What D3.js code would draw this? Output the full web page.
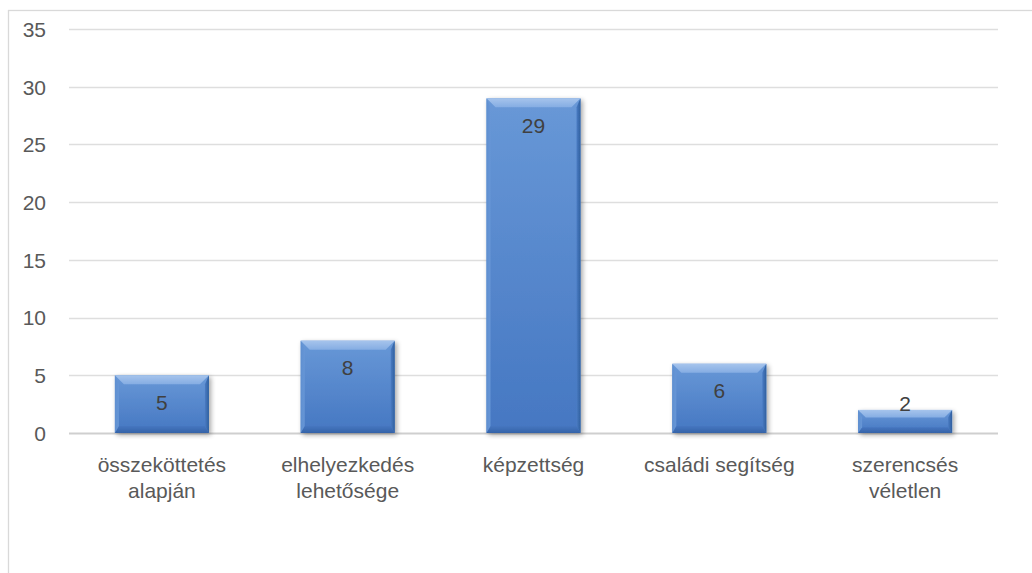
<!DOCTYPE html>
<html><head><meta charset="utf-8">
<script src="https://cdn.jsdelivr.net/npm/d3@7/dist/d3.min.js"></script>
<style>
html,body{margin:0;padding:0;background:#fff;}
svg{display:block;}
text{font-family:"Liberation Sans",Arial,sans-serif;}
</style></head>
<body>
<svg id="chart" width="1032" height="573"></svg>
<script>
const categories = [["összeköttetés","alapján"],["elhelyezkedés","lehetősége"],["képzettség"],["családi segítség"],["szerencsés","véletlen"]];
const values = [5, 8, 29, 6, 2];
const yTicks = [0, 5, 10, 15, 20, 25, 30, 35];

const svg = d3.select("#chart");
const W = 1032, H = 573;
const plot = {left: 69, right: 998, top: 29, bottom: 433};

// outer border
svg.append("rect").attr("x", 8.5).attr("y", 10.5).attr("width", W + 20).attr("height", H + 20)
  .attr("fill", "none").attr("stroke", "#d9d9d9").attr("stroke-width", 1.3);

const x = d3.scaleBand().domain(d3.range(values.length)).range([plot.left, plot.right])
  .paddingInner(0.494).paddingOuter(0.247);
const y = d3.scaleLinear().domain([0, 35]).range([plot.bottom, plot.top]);

const defs = svg.append("defs");
function lg(id, x1, y1, x2, y2, stops){
  const g = defs.append("linearGradient").attr("id", id)
    .attr("x1", x1).attr("y1", y1).attr("x2", x2).attr("y2", y2);
  stops.forEach(s => g.append("stop").attr("offset", s[0]).attr("stop-color", s[1]));
}
lg("face", 0, 0, 0, 1, [[0, "#6898d7"], [1, "#4577c2"]]);
lg("topB", 0, 0, 0, 1, [[0, "#a6c4ec"], [1, "#85ade3"]]);
lg("botB", 0, 0, 0, 1, [[0, "#4676c0"], [1, "#3563a8"]]);
lg("leftB", 0, 0, 1, 0, [[0, "#5f8fd0"], [1, "#6796d6"]]);
lg("rightB", 0, 0, 1, 0, [[0, "#4a7bc3"], [1, "#30609f"]]);
const f = defs.append("filter").attr("id", "shadow").attr("x", "-20%").attr("y", "-20%").attr("width", "150%").attr("height", "150%");
f.append("feGaussianBlur").attr("in", "SourceAlpha").attr("stdDeviation", 2.5).attr("result", "b");
f.append("feOffset").attr("in", "b").attr("dx", 2).attr("dy", 2).attr("result", "o");
f.append("feComponentTransfer").attr("in", "o").attr("result", "s")
  .append("feFuncA").attr("type", "linear").attr("slope", 0.35);
const m = f.append("feMerge");
m.append("feMergeNode").attr("in", "s");
m.append("feMergeNode").attr("in", "SourceGraphic");

// gridlines
svg.append("g").selectAll("line").data(yTicks).join("line")
  .attr("x1", plot.left).attr("x2", plot.right)
  .attr("y1", d => Math.round(y(d)) + 0.5).attr("y2", d => Math.round(y(d)) + 0.5)
  .attr("stroke", d => d === 0 ? "#cfcfcf" : "#dedede")
  .attr("stroke-width", d => d === 0 ? 2 : 1.3);

// y axis labels
const yAxis = d3.axisLeft(y).tickValues(yTicks).tickSize(0).tickPadding(0);
const ya = svg.append("g").attr("transform", `translate(46,0)`).call(yAxis);
ya.select(".domain").remove();
ya.selectAll("text").attr("font-size", 21).attr("fill", "#595959")
  .attr("font-family", "'Liberation Sans',Arial,sans-serif").attr("dy", "0.35em");

// bars
const bars = svg.append("g").selectAll("g").data(values).join("g").attr("filter", "url(#shadow)");
bars.each(function(v, i){
  const g = d3.select(this);
  const x0 = x(i), w = x.bandwidth(), y0 = y(v), h = y(0) - y(v);
  const bt = Math.min(9, h / 3), bb = Math.min(7, h / 4), bs = 4;
  const pts = a => a.map(p => p.join(",")).join(" ");
  g.append("rect").attr("x", x0).attr("y", y0).attr("width", w).attr("height", h).attr("fill", "url(#face)");
  g.append("polygon").attr("points", pts([[x0, y0 + h], [x0 + w, y0 + h], [x0 + w - bs, y0 + h - bb], [x0 + bs, y0 + h - bb]])).attr("fill", "url(#botB)");
  g.append("polygon").attr("points", pts([[x0, y0], [x0 + bs, y0 + bt], [x0 + bs, y0 + h - bb], [x0, y0 + h]])).attr("fill", "url(#leftB)");
  g.append("polygon").attr("points", pts([[x0 + w, y0], [x0 + w - bs, y0 + bt], [x0 + w - bs, y0 + h - bb], [x0 + w, y0 + h]])).attr("fill", "url(#rightB)");
  g.append("polygon").attr("points", pts([[x0, y0], [x0 + w, y0], [x0 + w - bt, y0 + bt], [x0 + bt, y0 + bt]])).attr("fill", "url(#topB)");
});

// value labels
svg.append("g").selectAll("text").data(values).join("text")
  .attr("x", (d, i) => x(i) + x.bandwidth() / 2)
  .attr("y", d => Math.min(y(d) + 27, y(0) - 29))
  .attr("dy", "0.35em").attr("text-anchor", "middle")
  .attr("font-size", 21).attr("fill", "#404040").text(d => d);

// category labels
const cl = svg.append("g").selectAll("text").data(categories).join("text")
  .attr("text-anchor", "middle").attr("font-size", 21).attr("fill", "#595959")
  .attr("x", (d, i) => x(i) + x.bandwidth() / 2).attr("y", 472);
cl.selectAll("tspan").data(d => d).join("tspan")
  .attr("x", function(){ return d3.select(this.parentNode).attr("x"); })
  .attr("dy", (d, j) => j === 0 ? 0 : 26).text(d => d);
</script>
</body></html>
